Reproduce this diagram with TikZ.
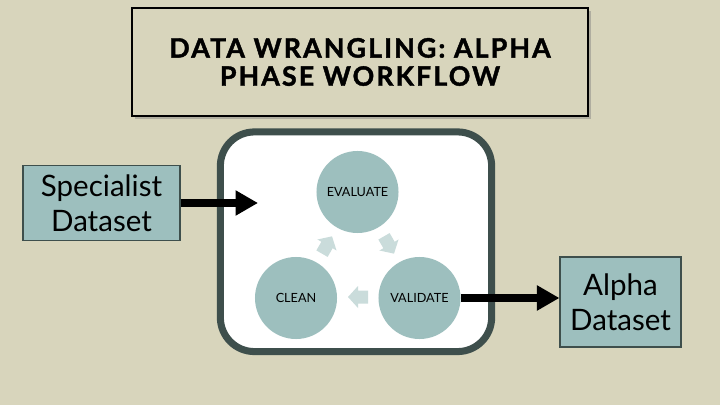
\documentclass[tikz,border=0pt]{standalone}
\usepackage{fontspec}
\setmainfont{Lato}
\newfontfamily\titlefont{Lato}[LetterSpace=8,BoldFeatures={FakeBold=1.6}]
\usetikzlibrary{positioning,arrows.meta,shadows}

\definecolor{slidebg}{RGB}{216,213,188}
\definecolor{tealfill}{RGB}{157,191,190}
\definecolor{paleteal}{RGB}{202,220,219}
\definecolor{frameline}{RGB}{62,79,76}

\begin{document}
\begin{tikzpicture}[x=0.025cm,y=-0.025cm,
    titlebox/.style={draw=black,line width=1.5pt,fill=slidebg,align=center,
        minimum width=11.4cm,minimum height=2.7cm,
        drop shadow={shadow xshift=2pt,shadow yshift=-2pt,opacity=0.45},
        font=\fontsize{19}{20}\titlefont\bfseries},
    frame/.style={draw=frameline,line width=5pt,fill=white,rounded corners=0.85cm,
        minimum width=6.78cm,minimum height=5.49cm},
    stage/.style={circle,fill=tealfill,minimum size=2.05cm,inner sep=0pt,
        font=\fontsize{9}{11}\selectfont},
    databox/.style={draw=frameline,line width=0.8pt,fill=tealfill,align=center,
        font=\fontsize{21}{25}\selectfont},
    cyclearrow/.pic={
        \fill[paleteal] (-10,-6.5) -- (0,-6.5) -- (0,-11) -- (10,0)
            -- (0,11) -- (0,6.5) -- (-10,6.5) -- cycle;},
    flow/.style={-{Triangle[length=16pt,width=17pt]},line width=5.7pt}
    ]

    % slide background
    \fill[slidebg] (0,0) rectangle (720,405);
    \useasboundingbox (0,0) rectangle (720,405);

    % title
    \node[titlebox] (title) at (360,62) {DATA WRANGLING: ALPHA\\PHASE WORKFLOW};

    % workflow cycle
    \node[frame] (workflow) at (356,241.75) {};
    \node[stage] (evaluate) at (357.5,192) {EVALUATE};
    \node[stage] (clean) at (296,298) {CLEAN};
    \node[stage] (validate) at (419.5,298) {VALIDATE};
    \pic[rotate=-60] (evalval) at (389,245) {cyclearrow};
    \pic[rotate=180] (valclean) at (358,297) {cyclearrow};
    \pic[rotate=60] (cleaneval) at (327,245) {cyclearrow};

    % datasets in and out
    \node[databox,minimum width=3.925cm,minimum height=1.875cm] (specialist)
        at (101.5,203) {Specialist\\Dataset};
    \node[databox,minimum width=3.025cm,minimum height=2.25cm] (alpha)
        at (620.5,302) {Alpha\\Dataset};
    \coordinate (inlet) at (258,203);
    \draw[flow] (specialist.east) -- (inlet);
    \draw[flow] (validate.east) -- (validate.east -| alpha.west);

\end{tikzpicture}
\end{document}
